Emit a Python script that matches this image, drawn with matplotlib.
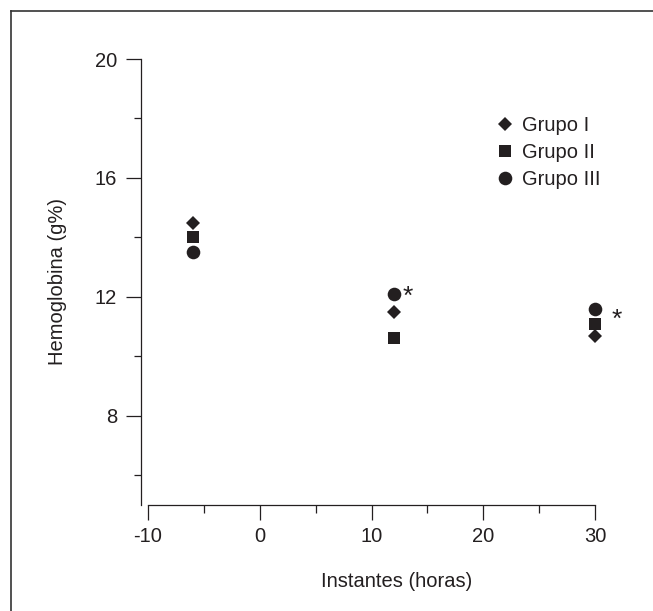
import matplotlib
matplotlib.use('Agg')
import matplotlib.pyplot as plt
from matplotlib.lines import Line2D

plt.rcParams['font.family'] = ['Liberation Sans', 'DejaVu Sans']
plt.rcParams['axes.unicode_minus'] = False

# data
instantes = [-6, 12, 30]
grupo_1 = [14.5, 11.5, 10.7]
grupo_2 = [14.0, 10.6, 11.1]
grupo_3 = [13.5, 12.1, 11.6]
grupos = ['Grupo I', 'Grupo II', 'Grupo III']
# significant points (marked with *) belong to Grupo III
sig_idx = [1, 2]

ink = '#231f20'
fs = 14.5

fig = plt.figure(figsize=(6.53, 6.11), dpi=100)
ax = fig.add_axes([0.2159, 0.1735, 0.7466, 0.7445])

ax.plot(instantes, grupo_1, 'D', ms=6.8, color=ink, mew=0, label=grupos[0])
ax.plot(instantes, grupo_2, 's', ms=9.2, color=ink, mew=0, label=grupos[1])
ax.plot(instantes, grupo_3, 'o', ms=9.8, color=ink, mew=0, label=grupos[2])

# asterisks next to the Grupo III points
offsets = [(10, -2), (16, -8)]
for i, off in zip(sig_idx, offsets):
    ax.annotate('*', (instantes[i], grupo_3[i]), xytext=off, textcoords='offset points',
                ha='center', va='center', fontsize=19, color=ink)

ax.set_xlim(-10.63, 33)
ax.set_ylim(5.0, 20.3)
ax.spines['top'].set_visible(False)
ax.spines['right'].set_visible(False)
ax.spines['bottom'].set_bounds(-10, 30)
ax.spines['left'].set_bounds(5.0, 20)
for s in ('left', 'bottom'):
    ax.spines[s].set_color(ink)
    ax.spines[s].set_linewidth(0.9)

ax.set_xticks([-10, 0, 10, 20, 30])
ax.set_xticks([-5, 5, 15, 25], minor=True)
ax.set_yticks([8, 12, 16, 20])
ax.set_yticks([6, 10, 14, 18], minor=True)
ax.tick_params(which='major', length=10.8, width=0.9, color=ink, labelsize=fs,
               labelcolor=ink)
ax.tick_params(axis='y', which='major', pad=6.5)
ax.tick_params(axis='x', which='major', pad=5)
ax.tick_params(which='minor', length=5.4, width=0.9, color=ink)

ax.set_xlabel('Instantes (horas)', fontsize=fs, color=ink)
ax.xaxis.set_label_coords(0.524, -0.148)
ax.set_ylabel('Hemoglobina (g%)', fontsize=fs, color=ink)
ax.yaxis.set_label_coords(-0.152, 0.492)

ax.legend(loc='upper left', bbox_to_anchor=(0.722, 0.856), frameon=False, fontsize=fs,
          handletextpad=0.25, labelspacing=0.4, handlelength=1.2, borderpad=0,
          borderaxespad=0, labelcolor=ink)

# frame around the figure (only top and left visible)
fig.add_artist(Line2D([0.0168, 1.0], [0.982, 0.982], transform=fig.transFigure,
                      color='#333333', lw=1.2))
fig.add_artist(Line2D([0.0168, 0.0168], [0.0, 0.982], transform=fig.transFigure,
                      color='#333333', lw=1.2))

fig.savefig('out.png', dpi=100)
